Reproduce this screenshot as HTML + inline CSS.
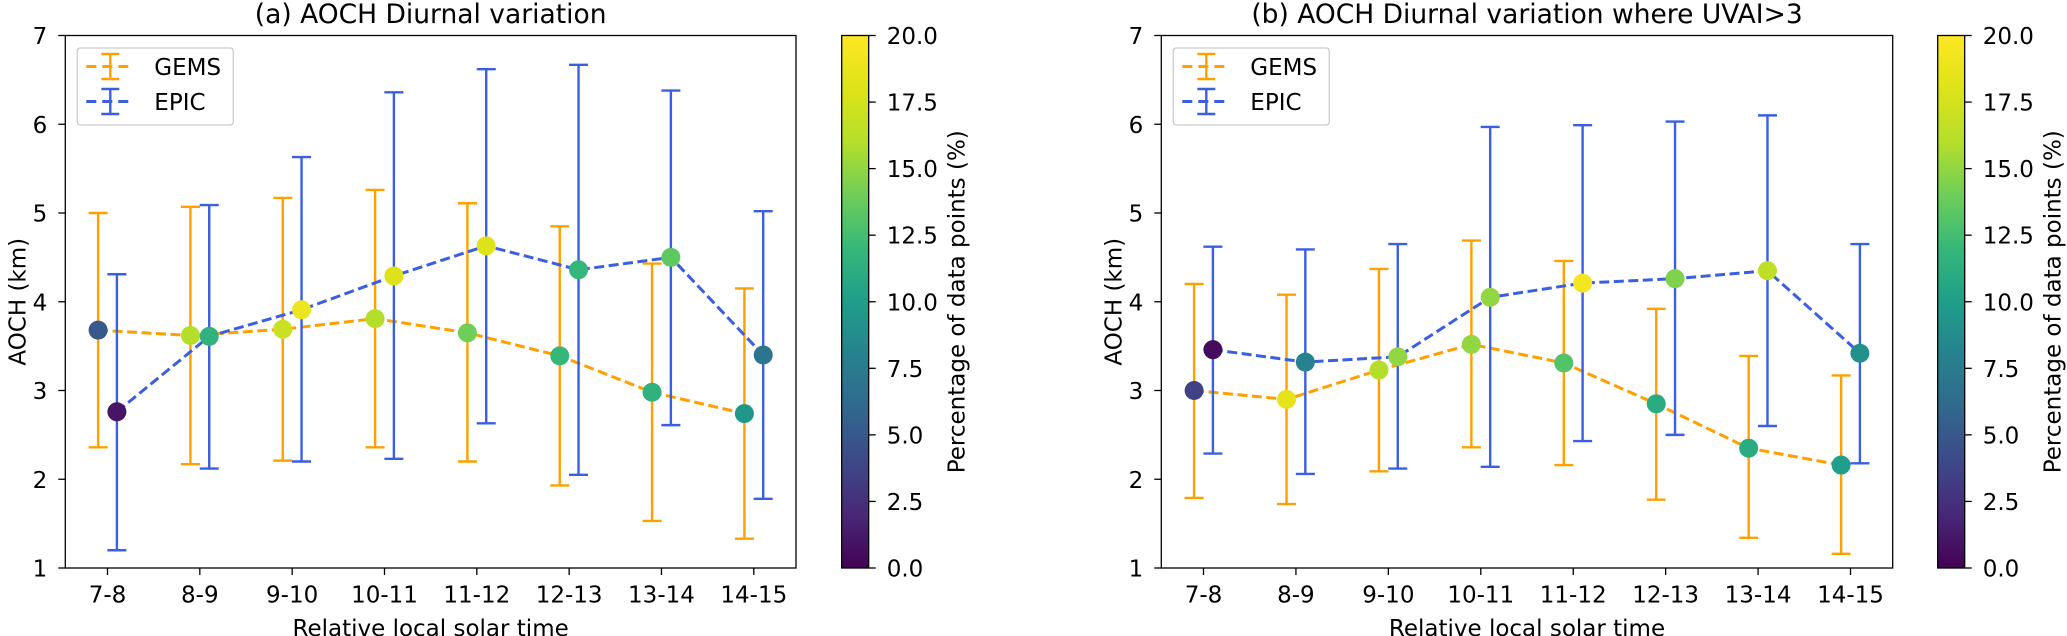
<!DOCTYPE html>
<html><head><meta charset="utf-8"><style>
html,body{margin:0;padding:0;background:#fff;}
svg{display:block;font-family:"DejaVu Sans","Liberation Sans",sans-serif;}
</style></head><body>
<svg id="fig" width="2067" height="636" viewBox="0 0 2067 636" xmlns="http://www.w3.org/2000/svg">
<defs>
<linearGradient id="vir" x1="0" y1="1" x2="0" y2="0">
<stop offset="0" stop-color="#440154"/><stop offset="0.1" stop-color="#482878"/><stop offset="0.2" stop-color="#3e4989"/><stop offset="0.3" stop-color="#31688e"/><stop offset="0.4" stop-color="#26828e"/><stop offset="0.5" stop-color="#1f9e89"/><stop offset="0.6" stop-color="#35b779"/><stop offset="0.7" stop-color="#6ece58"/><stop offset="0.8" stop-color="#b5de2b"/><stop offset="0.9" stop-color="#dde318"/><stop offset="1" stop-color="#fde725"/>
</linearGradient>
</defs>
</svg>
<script>
const categories = ["7-8","8-9","9-10","10-11","11-12","12-13","13-14","14-15"];
const yTicks = [1,2,3,4,5,6,7];
const cbTicks = [0,2.5,5,7.5,10,12.5,15,17.5,20];
// Panel (a)
const aGemsMean = [3.68,3.62,3.69,3.81,3.65,3.39,2.98,2.74];
const aGemsLow  = [2.36,2.17,2.21,2.36,2.20,1.93,1.53,1.33];
const aGemsHigh = [5.00,5.07,5.17,5.26,5.11,4.85,4.43,4.15];
const aGemsPct  = [5,16,17,16,14,12,11.5,9.5];
const aEpicMean = [2.76,3.61,3.91,4.29,4.63,4.36,4.50,3.40];
const aEpicLow  = [1.20,2.12,2.20,2.23,2.63,2.05,2.61,1.78];
const aEpicHigh = [4.31,5.09,5.63,6.36,6.62,6.67,6.38,5.02];
const aEpicPct  = [1,11.5,19,18,18,12,13.5,7];
// Panel (b)
const bGemsMean = [3.00,2.90,3.23,3.52,3.31,2.85,2.35,2.16];
const bGemsLow  = [1.79,1.72,2.09,2.36,2.16,1.77,1.34,1.16];
const bGemsHigh = [4.20,4.08,4.37,4.69,4.46,3.92,3.39,3.17];
const bGemsPct  = [3.5,18.5,16,15,13,11,11,10];
const bEpicMean = [3.46,3.32,3.38,4.05,4.21,4.26,4.35,3.42];
const bEpicLow  = [2.29,2.06,2.12,2.14,2.43,2.50,2.60,2.18];
const bEpicHigh = [4.62,4.59,4.65,5.97,5.99,6.03,6.10,4.65];
const bEpicPct  = [0.5,8,15,15,19.5,14.5,16.5,9];

const NS="http://www.w3.org/2000/svg";
const svg=document.getElementById('fig');
function mk(tag,attrs,parent,text){const e=document.createElementNS(NS,tag);for(const k in attrs)e.setAttribute(k,attrs[k]);if(text!==undefined)e.textContent=text;(parent||svg).appendChild(e);return e;}
const vstops=[[68,1,84],[72,40,120],[62,73,137],[49,104,142],[38,130,142],[31,158,137],[53,183,121],[110,206,88],[181,222,43],[221,227,24],[253,231,37]];
function viridis(p){let t=Math.max(0,Math.min(1,p/20))*10;let i=Math.min(9,Math.floor(t));let f=t-i;const a=vstops[i],b=vstops[i+1];return 'rgb('+a.map((v,k)=>Math.round(v+(b[k]-v)*f)).join(',')+')';}
const ORANGE="#ffa000", BLUE="#3a5fe0";
const FS=23;

function panel(o){
  const L=o.x0, R=o.x1, T=35.5, B=568;
  const xs=i=>L+42.2+i*((R-L-84.4)/7);
  const ys=v=>B-(v-1)*(B-T)/6;
  const g=mk('g',{});
  
  
  const t=mk('text',{x:(L+R)/2,y:23,'text-anchor':'middle','font-size':26.5},g,o.title);
  
  yTicks.forEach(v=>{mk('line',{x1:L-7,x2:L,y1:ys(v),y2:ys(v),stroke:'#000','stroke-width':1.3},g);
    const tl=mk('text',{x:L-18,y:ys(v)+8.5,'text-anchor':'end','font-size':FS},g,String(v));
    });
  categories.forEach((c,i)=>{mk('line',{x1:xs(i),x2:xs(i),y1:B,y2:B+7,stroke:'#000','stroke-width':1.3},g);
    const tl=mk('text',{x:xs(i),y:602.5,'text-anchor':'middle','font-size':FS},g,c);
    });
  const xl=mk('text',{x:(L+R)/2,y:636,'text-anchor':'middle','font-size':FS},g,'Relative local solar time');
  
  const yl=mk('text',{x:0,y:0,'text-anchor':'middle','font-size':FS,transform:'translate('+(L-40)+','+((T+B)/2)+') rotate(-90)'},g,'AOCH (km)');
  
  const series=[[o.gm,o.gl,o.gh,o.gp,ORANGE,-9.4,'gems'],[o.em,o.el,o.eh,o.ep,BLUE,9.4,'epic']];
  series.forEach(s=>{
    const [m,lo,hi,pc,col,off,nm]=s;
    m.forEach((v,i)=>{const x=xs(i)+off;
      const eb=mk('g',{},g);
      mk('line',{x1:x,x2:x,y1:ys(lo[i]),y2:ys(hi[i]),stroke:col,'stroke-width':2.4},eb);
      mk('line',{x1:x-9.5,x2:x+9.5,y1:ys(lo[i]),y2:ys(lo[i]),stroke:col,'stroke-width':2.4},eb);
      mk('line',{x1:x-9.5,x2:x+9.5,y1:ys(hi[i]),y2:ys(hi[i]),stroke:col,'stroke-width':2.4},eb);});
    const ln=mk('polyline',{points:m.map((v,i)=>(xs(i)+off)+','+ys(v)).join(' '),fill:'none',stroke:col,'stroke-width':3,'stroke-dasharray':'10,4.5'},g);
    
  });
  series.forEach(s=>{const [m,,,pc,,off,nm]=s;
    m.forEach((v,i)=>{const c=mk('circle',{cx:xs(i)+off,cy:ys(v),r:9.5,fill:viridis(pc[i])},g);
      });});
  mk('rect',{x:L,y:T,width:R-L,height:B-T,fill:'none',stroke:'#000','stroke-width':1.3},g);
  // legend
  const lg=mk('g',{},g);
  const lx=L+12;
  mk('rect',{x:lx,y:48,width:o.lw,height:77,rx:3,fill:'#fff','fill-opacity':0.8,stroke:'#ccc','stroke-width':1.3},lg);
  [['GEMS',ORANGE,66.5],['EPIC',BLUE,101.5]].forEach(e=>{
    const le=mk('g',{},lg);
    mk('line',{x1:lx+9,x2:lx+57,y1:e[2],y2:e[2],stroke:e[1],'stroke-width':3,'stroke-dasharray':'10,6'},le);
    mk('line',{x1:lx+33,x2:lx+33,y1:e[2]-12.5,y2:e[2]+12.5,stroke:e[1],'stroke-width':2.4},le);
    mk('line',{x1:lx+24,x2:lx+42,y1:e[2]-12.5,y2:e[2]-12.5,stroke:e[1],'stroke-width':2.4},le);
    mk('line',{x1:lx+24,x2:lx+42,y1:e[2]+12.5,y2:e[2]+12.5,stroke:e[1],'stroke-width':2.4},le);
    mk('text',{x:lx+77,y:e[2]+8.5,'font-size':FS},le,e[0]);});
  // colorbar
  const cb=mk('g',{},g);
  const cx=o.cbx, cw=27;
  mk('rect',{x:cx,y:T,width:cw,height:B-T,fill:'url(#vir)',stroke:'#000','stroke-width':1.3},cb);
  cbTicks.forEach(v=>{const y=B-v/20*(B-T);mk('line',{x1:cx+cw,x2:cx+cw+7,y1:y,y2:y,stroke:'#000','stroke-width':1.3},cb);
    mk('text',{x:cx+cw+18,y:y+8.5,'font-size':FS},cb,v.toFixed(1));});
  const cl=mk('text',{x:0,y:0,'text-anchor':'middle','font-size':FS,transform:'translate('+(cx+123)+','+((T+B)/2)+') rotate(-90)'},cb,'Percentage of data points (%)');
  
}
panel({name:'panel-a',title:'(a) AOCH Diurnal variation',x0:65.3,x1:796,cbx:841.7,lw:156,
  gm:aGemsMean,gl:aGemsLow,gh:aGemsHigh,gp:aGemsPct,em:aEpicMean,el:aEpicLow,eh:aEpicHigh,ep:aEpicPct});
panel({name:'panel-b',title:'(b) AOCH Diurnal variation where UVAI>3',x0:1161.3,x1:1892.7,cbx:1937.7,lw:156,
  gm:bGemsMean,gl:bGemsLow,gh:bGemsHigh,gp:bGemsPct,em:bEpicMean,el:bEpicLow,eh:bEpicHigh,ep:bEpicPct});
</script>
</body></html>
